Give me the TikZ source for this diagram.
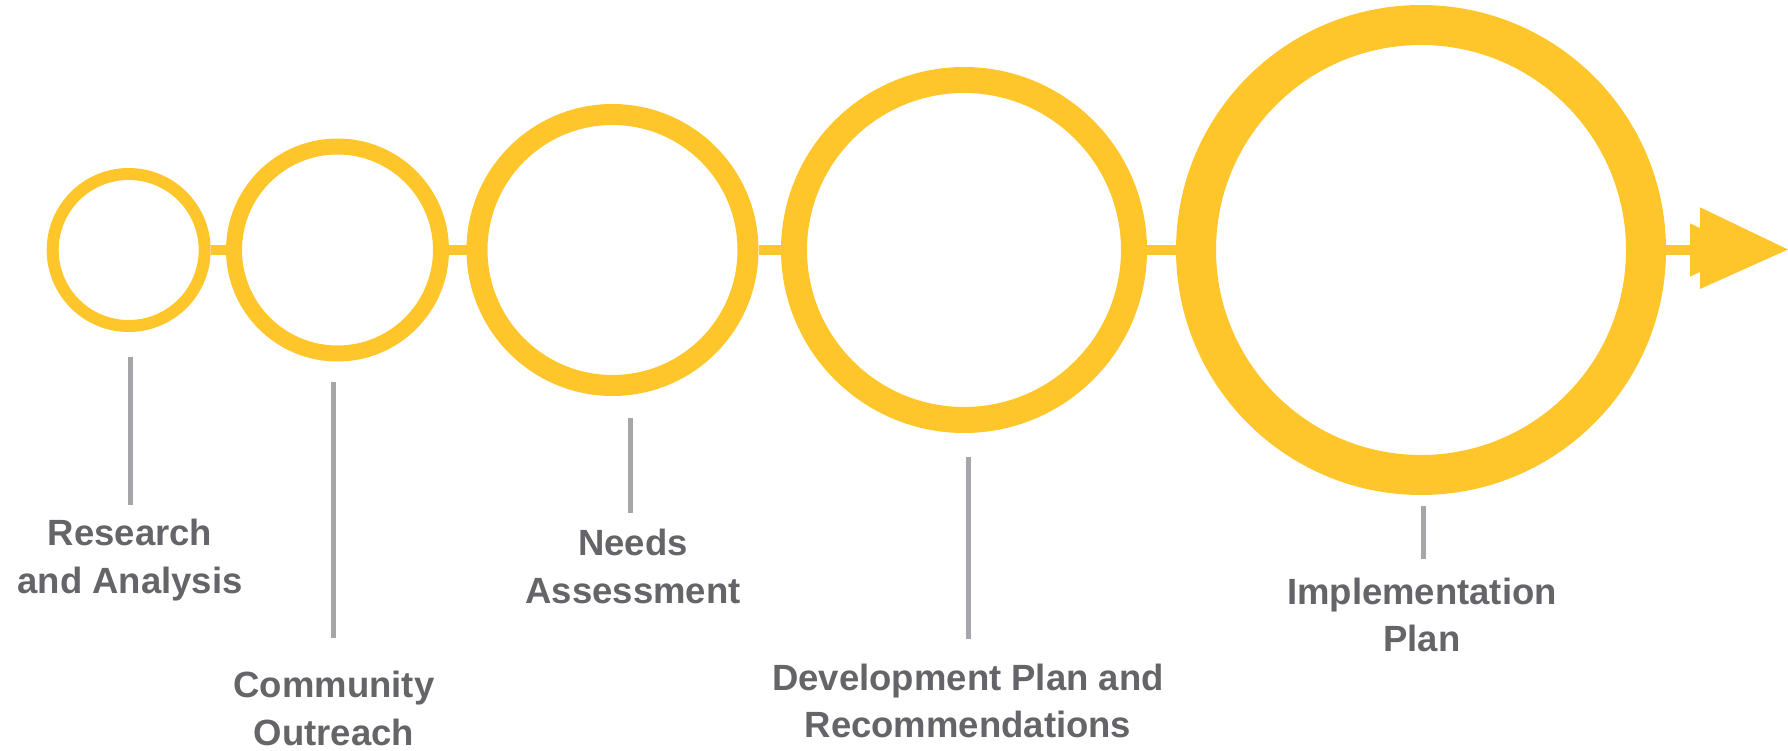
\documentclass[tikz,border=0pt]{standalone}
\usepackage{fontspec}
\setmainfont{Liberation Sans}
\definecolor{gold}{HTML}{FEC62A}
\definecolor{tickgray}{HTML}{A6A6AA}
\definecolor{txtgray}{HTML}{646469}
\tikzset{
  ring/.style={circle, draw=gold, inner sep=0pt, fill=none},
  conn/.style={draw=gold, line width=10pt},
  tickline/.style={draw=tickgray, line width=5pt},
  label/.style={anchor=base, align=center, text=txtgray, inner sep=0pt,
    font=\fontsize{36.5}{47.5}\selectfont\bfseries},
}
\begin{document}
\begin{tikzpicture}[x=1pt,y=-1pt]
\useasboundingbox (0,0) rectangle (1788,751);
% rings
\node[ring, line width=12pt, minimum size=152pt] (c1) at (128.7,250) {};
\node[ring, line width=16pt, minimum size=207pt] (c2) at (337.5,250) {};
\node[ring, line width=21pt, minimum size=271pt] (c3) at (612.5,250) {};
\node[ring, line width=26pt, minimum size=340pt] (c4) at (964,250) {};
\node[ring, line width=40pt, minimum size=450pt] (c5) at (1421,250) {};
% connectors
\draw[conn] (c1) -- (c2);
\draw[conn] (c2) -- (c3);
\draw[conn] (c3) -- (c4);
\draw[conn] (c4) -- (c5);
\coordinate (aend) at (1700,250);
\draw[conn] (c5) -- (aend);
% double arrowhead
\fill[gold] (1690,223.3) -- (1746,250) -- (1690,276.7) -- cycle;
\fill[gold] (1700,207.3) -- (1788,249.5) -- (1700,289) -- cycle;
% labels (anchor = baseline of last line)
\node[label] (t1) at (130,593.2) {Research\\and Analysis};
\node[label] (t2) at (334,745.3) {Community\\Outreach};
\node[label] (t3) at (633,603) {Needs\\Assessment};
\node[label] (t4) at (968,737.7) {Development Plan and\\Recommendations};
\node[label] (t5) at (1422,651.5) {Implementation\\Plan};
% tick lines
\coordinate (g1a) at (130.3,357); \coordinate (g1b) at (130.3,505);
\coordinate (g2a) at (333.3,382); \coordinate (g2b) at (333.3,638);
\coordinate (g3a) at (630.7,418.3); \coordinate (g3b) at (630.7,513.3);
\coordinate (g4a) at (968.7,457.3); \coordinate (g4b) at (968.7,639);
\coordinate (g5a) at (1423,506); \coordinate (g5b) at (1423,559.3);
\draw[tickline] (g1a) -- (g1b);
\draw[tickline] (g2a) -- (g2b);
\draw[tickline] (g3a) -- (g3b);
\draw[tickline] (g4a) -- (g4b);
\draw[tickline] (g5a) -- (g5b);
\end{tikzpicture}
\end{document}
